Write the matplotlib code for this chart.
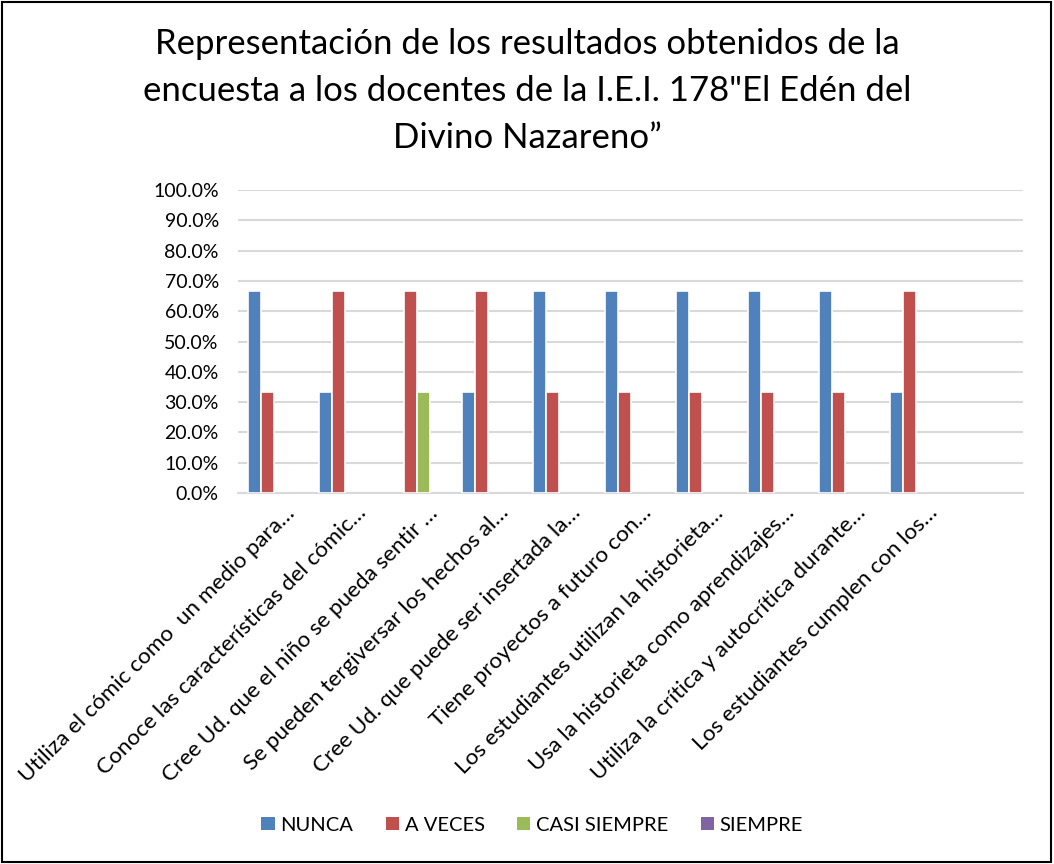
import matplotlib.pyplot as plt
import numpy as np
from matplotlib.patches import Rectangle
from matplotlib.ticker import FuncFormatter

plt.rcParams['font.family'] = ['Lato', 'DejaVu Sans']

categorias = [
    "Utiliza el cómic como  un medio para…",
    "Conoce las características del cómic…",
    "Cree Ud. que el niño se pueda sentir …",
    "Se pueden tergiversar los hechos al…",
    "Cree Ud. que puede ser insertada la…",
    "Tiene proyectos a futuro con…",
    "Los estudiantes utilizan la historieta…",
    "Usa la historieta como aprendizajes…",
    "Utiliza la crítica y autocrítica durante…",
    "Los estudiantes cumplen con los…",
    "",
]
nunca = [66.7, 33.3, 0, 33.3, 66.7, 66.7, 66.7, 66.7, 66.7, 33.3, 0]
a_veces = [33.3, 66.7, 66.7, 66.7, 33.3, 33.3, 33.3, 33.3, 33.3, 66.7, 0]
casi_siempre = [0, 0, 33.3, 0, 0, 0, 0, 0, 0, 0, 0]
siempre = [0, 0, 0, 0, 0, 0, 0, 0, 0, 0, 0]

series = ["NUNCA", "A VECES", "CASI SIEMPRE", "SIEMPRE"]
colores = ["#4F81BD", "#C0504D", "#9BBB59", "#8064A2"]

fig = plt.figure(figsize=(10.54, 8.64), dpi=100)
ax = fig.add_axes([0.226, 0.4294, 0.745, 0.3506])

x = np.arange(len(categorias))
ancho = 1 / 5.5
for i, (vals, nombre, c) in enumerate(zip([nunca, a_veces, casi_siempre, siempre], series, colores)):
    vals = np.array(vals, dtype=float)
    hay = vals > 0
    # barra vacía para la leyenda, luego sólo las barras con valor
    ax.bar([0], [0], 0, color=c, label=nombre)
    ax.bar(x[hay] + (i - 1.5) * ancho, vals[hay], ancho, color=c, edgecolor="white",
           linewidth=1.2, zorder=3)

ax.set_xlim(-0.5, len(categorias) - 0.5)
ax.set_ylim(0, 100)
ax.set_yticks(np.arange(0, 101, 10))
ax.yaxis.set_major_formatter(FuncFormatter(lambda v, p: f"{v:.1f}%"))
ax.grid(axis="y", color="#D9D9D9", linewidth=1.5, zorder=0)
for s in ["top", "right", "left"]:
    ax.spines[s].set_visible(False)
ax.spines["bottom"].set_color("#D9D9D9")
ax.spines["bottom"].set_linewidth(1.5)
ax.spines["bottom"].set_zorder(1)
ax.tick_params(axis="both", length=0, labelsize=14, colors="#000000")
ax.tick_params(axis="y", pad=14)
ax.set_xticks(x + 0.15)
ax.set_xticklabels(categorias, rotation=45, ha="right", rotation_mode="anchor", fontsize=16.2)
ax.tick_params(axis="x", pad=7)

fig.text(0.5, 0.968, "Representación de los resultados obtenidos de la\n"
         "encuesta a los docentes de la I.E.I. 178\"El Edén del\n"
         "Divino Nazareno”", ha="center", va="top", fontsize=25, linespacing=1.58)

fig.legend(loc="center", bbox_to_anchor=(0.505, 0.045), ncol=4, frameon=False,
           fontsize=14.5, handlelength=0.65, handleheight=0.65, handletextpad=0.3,
           columnspacing=1.6)

fig.patches.append(Rectangle((0.002, 0.002), 0.995, 0.996, transform=fig.transFigure,
                             fill=False, edgecolor="black", linewidth=1.5))

fig.savefig("out.png", dpi=100)
